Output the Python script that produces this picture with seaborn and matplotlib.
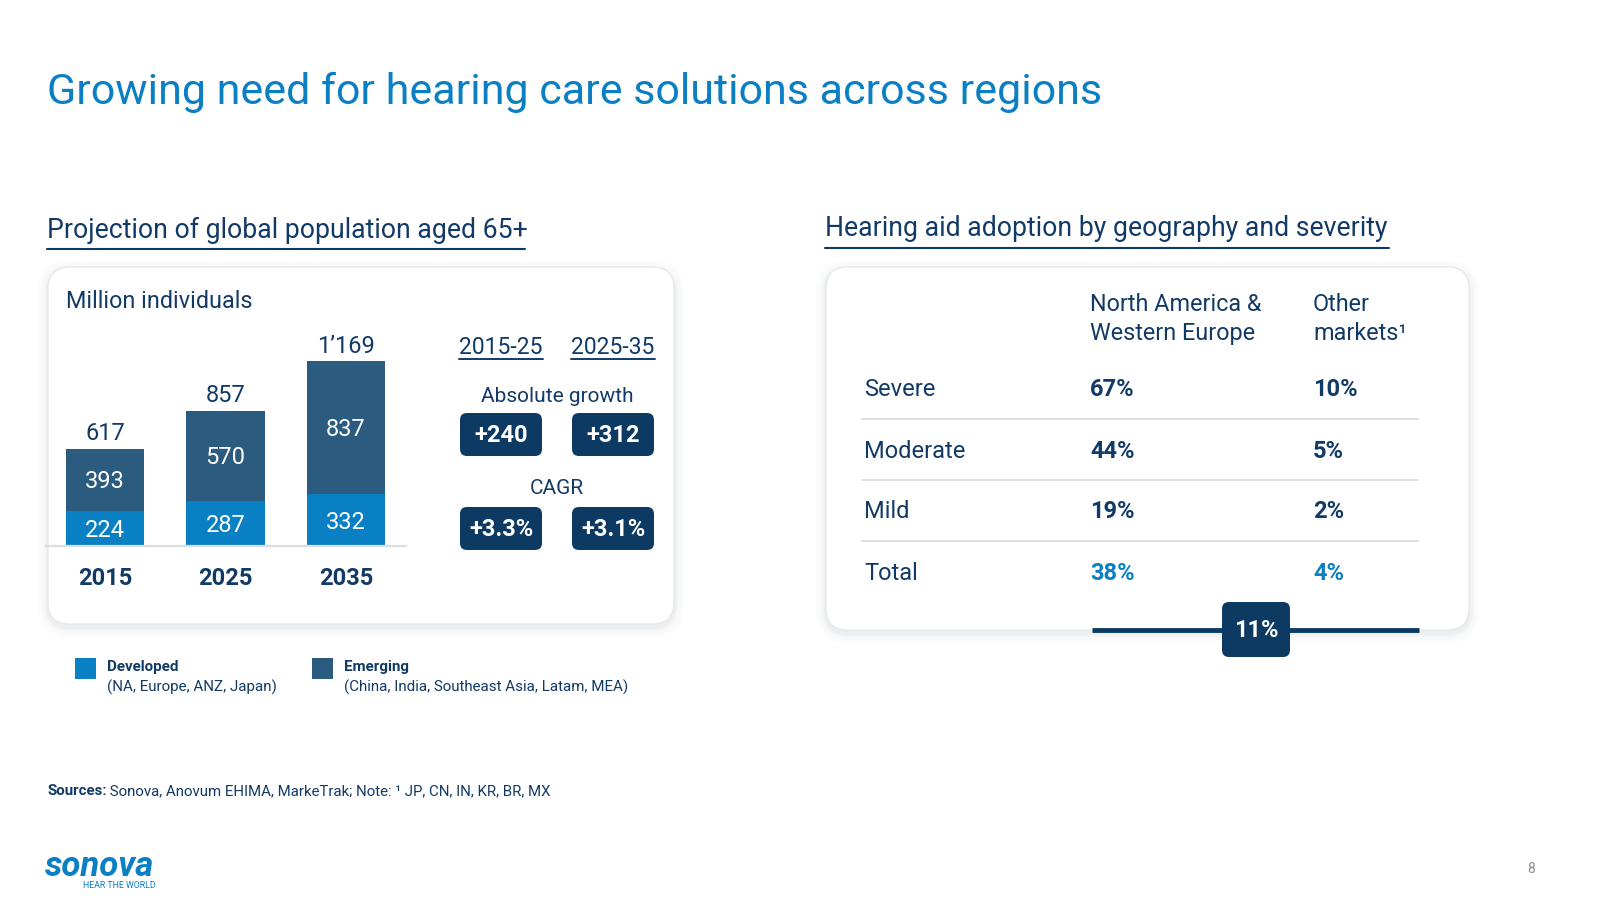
import matplotlib
matplotlib.use("Agg")
import matplotlib.pyplot as plt
from matplotlib.patches import FancyBboxPatch, Rectangle
import seaborn as sns

# ---- data ----
years = ["2015", "2025", "2035"]
developed = [224, 287, 332]
emerging = [393, 570, 837]
total_labels = ["617", "857", "1\u2019169"]
periods = ["2015-25", "2025-35"]
abs_growth = ["+240", "+312"]
cagr = ["+3.3%", "+3.1%"]

severity = ["Severe", "Moderate", "Mild", "Total"]
na_we = ["67%", "44%", "19%", "38%"]
other_mkts = ["10%", "5%", "2%", "4%"]
overall = "11%"

# ---- style ----
sns.set_theme(style="white")
plt.rcParams["font.family"] = ["Roboto", "DejaVu Sans"]

BLUE = "#0b7fc3"
DEV = "#0a80c4"
EMG = "#2b5b7f"
NAVY = "#0c3a63"
TXT = "#123a66"
GRID = "#dadee2"

fig = plt.figure(figsize=(16, 9), dpi=100)
fig.patch.set_facecolor("white")

# pixel-coordinate canvas for the slide furniture
bg = fig.add_axes([0, 0, 1, 1])
bg.set_xlim(0, 1600)
bg.set_ylim(900, 0)
bg.axis("off")


def card(x, y, w, h):
    for g, a in [(10, 0.018), (7, 0.025), (4, 0.035), (2, 0.05)]:
        bg.add_patch(FancyBboxPatch((x - g, y - g + 3), w + 2 * g, h + 2 * g,
                                    boxstyle=f"round,pad=0,rounding_size={22 + g}",
                                    fc="#6d7f92", ec="none", alpha=a))
    bg.add_patch(FancyBboxPatch((x, y), w, h, boxstyle="round,pad=0,rounding_size=22",
                                fc="white", ec="#e3e7eb", lw=0.8))


def pill(x, y, w, h, label, size=17):
    bg.add_patch(FancyBboxPatch((x, y), w, h, boxstyle="round,pad=0,rounding_size=7",
                                fc=NAVY, ec="none"))
    bg.text(x + w / 2, y + h / 2 + 1, label, color="white", fontsize=size,
            fontweight="bold", ha="center", va="center")


# title
bg.text(47, 92, "Growing need for hearing care solutions across regions",
        color=BLUE, fontsize=31, va="center", ha="left")

# section headers
bg.text(47, 230, "Projection of global population aged 65+", color=TXT,
        fontsize=19.2, va="center")
bg.plot([47, 525], [249, 249], color=NAVY, lw=1.5)
bg.text(825, 228, "Hearing aid adoption by geography and severity", color=TXT,
        fontsize=19.2, va="center")
bg.plot([825, 1389], [248, 248], color=NAVY, lw=1.5)

card(48, 267, 626, 357)
card(826, 267, 643, 363)

# ---- left card: stacked bars ----
bg.text(66, 301, "Million individuals", color=TXT, fontsize=16.8, va="center")

ax = fig.add_axes([46 / 1600, 354 / 900, 360 / 1600, 1300 * 0.158 / 900])
ax.patch.set_alpha(0)
totals = [d + e for d, e in zip(developed, emerging)]
sns.barplot(x=years, y=totals, color=EMG, saturation=1, width=0.65,
            linewidth=0, ax=ax)
sns.barplot(x=years, y=developed, color=DEV, saturation=1, width=0.65,
            linewidth=0, ax=ax)
ax.set_xlim(-0.49, 2.5)
ax.set_ylim(0, 1300)
ax.set_xticks([])
ax.set_yticks([])
ax.set_xlabel("")
ax.set_ylabel("")
for s in ["top", "right", "left"]:
    ax.spines[s].set_visible(False)
ax.spines["bottom"].set_color(GRID)
ax.spines["bottom"].set_linewidth(1.6)

nudge = 15  # optical centring of digits
for i in range(len(years)):
    ax.text(i, totals[i] + 110 - nudge, total_labels[i], ha="center", va="center",
            color=TXT, fontsize=17)
    ax.text(i, developed[i] + emerging[i] / 2 - nudge, str(emerging[i]), ha="center",
            va="center", color="white", fontsize=17)
    ax.text(i, developed[i] / 2 - nudge, str(developed[i]), ha="center", va="center",
            color="white", fontsize=17)
    ax.text(i, -206, years[i], ha="center", va="center", color=TXT,
            fontsize=17, fontweight="bold", clip_on=False)

# growth boxes
col_x = [501, 613]
for j, p in enumerate(periods):
    bg.text(col_x[j], 347, p, color=TXT, fontsize=16.5, ha="center", va="center")
    bg.plot([col_x[j] - 42, col_x[j] + 42], [359, 359], color=TXT, lw=1.4)
bg.text(557, 397, "Absolute growth", color=TXT, fontsize=15, ha="center", va="center")
bg.text(557, 489, "CAGR", color=TXT, fontsize=15, ha="center", va="center")
for j in range(2):
    pill(col_x[j] - 41, 413, 82, 43, abs_growth[j])
    pill(col_x[j] - 41, 507, 82, 43, cagr[j])

# legend
bg.add_patch(Rectangle((75, 658), 21, 21, fc=DEV, ec="none"))
bg.text(107, 667, "Developed", color=TXT, fontsize=10.9, fontweight="bold", va="center")
bg.text(107, 687, "(NA, Europe, ANZ, Japan)", color=TXT, fontsize=10.9, va="center")
bg.add_patch(Rectangle((312, 658), 21, 21, fc=EMG, ec="none"))
bg.text(344, 667, "Emerging", color=TXT, fontsize=10.9, fontweight="bold", va="center")
bg.text(344, 687, "(China, India, Southeast Asia, Latam, MEA)", color=TXT,
        fontsize=10.9, va="center")

# ---- right card: adoption table ----
c1, c2, c0 = 1090, 1313, 864
bg.text(c1, 319, "North America &\nWestern Europe", color=TXT, fontsize=16.8,
        va="center", linespacing=1.33)
bg.text(c2, 319, "Other\nmarkets\u00b9", color=TXT, fontsize=16.8,
        va="center", linespacing=1.33)
row_y = [390, 451, 512, 573]
for k, lab in enumerate(severity):
    vc = BLUE if lab == "Total" else TXT
    bg.text(c0, row_y[k], lab, color=TXT, fontsize=17, va="center")
    bg.text(c1, row_y[k], na_we[k], color=vc, fontsize=17, fontweight="bold", va="center")
    bg.text(c2, row_y[k], other_mkts[k], color=vc, fontsize=17, fontweight="bold", va="center")
    if k < len(severity) - 1:
        bg.plot([862, 1418], [row_y[k] + 29, row_y[k] + 29], color=GRID, lw=1.3)

bg.plot([1092, 1419], [630, 630], color=NAVY, lw=3.5, solid_capstyle="butt")
pill(1222, 602, 68, 55, overall, size=17)

# ---- footer ----
src = bg.text(47, 791, "Sources:", color=TXT, fontsize=10.8, fontweight="bold", va="center")
bg.annotate(" Sonova, Anovum EHIMA, MarkeTrak; Note: \u00b9 JP, CN, IN, KR, BR, MX",
            xy=(1, 0.5), xycoords=src, va="center", ha="left",
            color=TXT, fontsize=10.8)
bg.text(45, 866, "sonova", color=BLUE, fontsize=25, fontstyle="italic",
        fontweight="bold", va="center")
bg.text(156, 886, "HEAR THE WORLD", color=BLUE, fontsize=6.3, ha="right", va="center")
bg.text(1531, 869, "8", color="#8a8f94", fontsize=10, ha="center", va="center")

fig.savefig("out.png", dpi=100, facecolor="white")
